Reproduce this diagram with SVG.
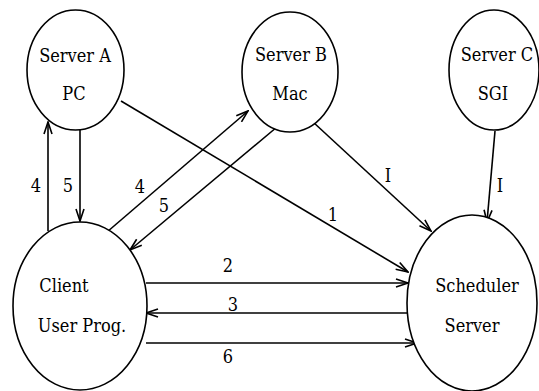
<svg xmlns="http://www.w3.org/2000/svg" width="539" height="391" viewBox="0 0 539 391">
<style>
.n{fill:#fff;stroke:#000;stroke-width:1.6}
.t{font-family:'DejaVu Serif Condensed','DejaVu Serif',serif;font-stretch:condensed;font-size:18px;fill:#000;text-anchor:middle}
.c{fill:none;stroke:#000;stroke-width:1.6}
</style>
<defs>
<marker id="a" viewBox="0 0 14 10" refX="13" refY="5" markerWidth="14" markerHeight="10" markerUnits="userSpaceOnUse" orient="auto">
<path d="M1,1 L13,5 L1,9" fill="none" stroke="#000" stroke-width="1.6"/>
</marker>
</defs>
<rect width="539" height="391" fill="#fff"/>
<g id="connectors">
<line class="c" x1="80" y1="130" x2="80" y2="221" marker-end="url(#a)"/>
<line class="c" x1="48" y1="231" x2="48" y2="122" marker-end="url(#a)"/>
<line class="c" x1="107" y1="232" x2="248" y2="111" marker-end="url(#a)"/>
<line class="c" x1="277" y1="127" x2="130" y2="250" marker-end="url(#a)"/>
<line class="c" x1="121" y1="101" x2="408" y2="272" marker-end="url(#a)"/>
<line class="c" x1="313" y1="122" x2="431" y2="231" marker-end="url(#a)"/>
<line class="c" x1="495" y1="131" x2="487" y2="222" marker-end="url(#a)"/>
<line class="c" x1="146" y1="283" x2="408" y2="283" marker-end="url(#a)"/>
<line class="c" x1="409" y1="313" x2="146" y2="313" marker-end="url(#a)"/>
<line class="c" x1="146" y1="343" x2="417" y2="343" marker-end="url(#a)"/>
<text class="t" x="36" y="192">4</text>
<text class="t" x="68" y="192">5</text>
<text class="t" x="140" y="193">4</text>
<text class="t" x="164" y="212">5</text>
<text class="t" x="333" y="221">1</text>
<text class="t" x="388" y="182">I</text>
<text class="t" x="500" y="192">I</text>
<text class="t" x="228" y="272">2</text>
<text class="t" x="233" y="311">3</text>
<text class="t" x="228" y="363">6</text>
</g>
<g id="serverA">
<ellipse class="n" cx="75.5" cy="70" rx="48.5" ry="60"/>
<text class="t" x="75" y="62">Server A</text>
<text class="t" x="74" y="100">PC</text>
</g>
<g id="serverB">
<ellipse class="n" cx="290" cy="72" rx="48" ry="60"/>
<text class="t" x="291" y="61">Server B</text>
<text class="t" x="290" y="100">Mac</text>
</g>
<g id="serverC">
<ellipse class="n" cx="494" cy="70" rx="45" ry="60"/>
<text class="t" x="497" y="61">Server C</text>
<text class="t" x="493" y="100">SGI</text>
</g>
<g id="client">
<ellipse class="n" cx="80" cy="306" rx="67" ry="84"/>
<text class="t" x="64" y="292">Client</text>
<text class="t" x="82" y="332">User Prog.</text>
</g>
<g id="scheduler">
<ellipse class="n" cx="472" cy="303" rx="65" ry="88"/>
<text class="t" x="477" y="292">Scheduler</text>
<text class="t" x="472" y="332">Server</text>
</g>
</svg>
